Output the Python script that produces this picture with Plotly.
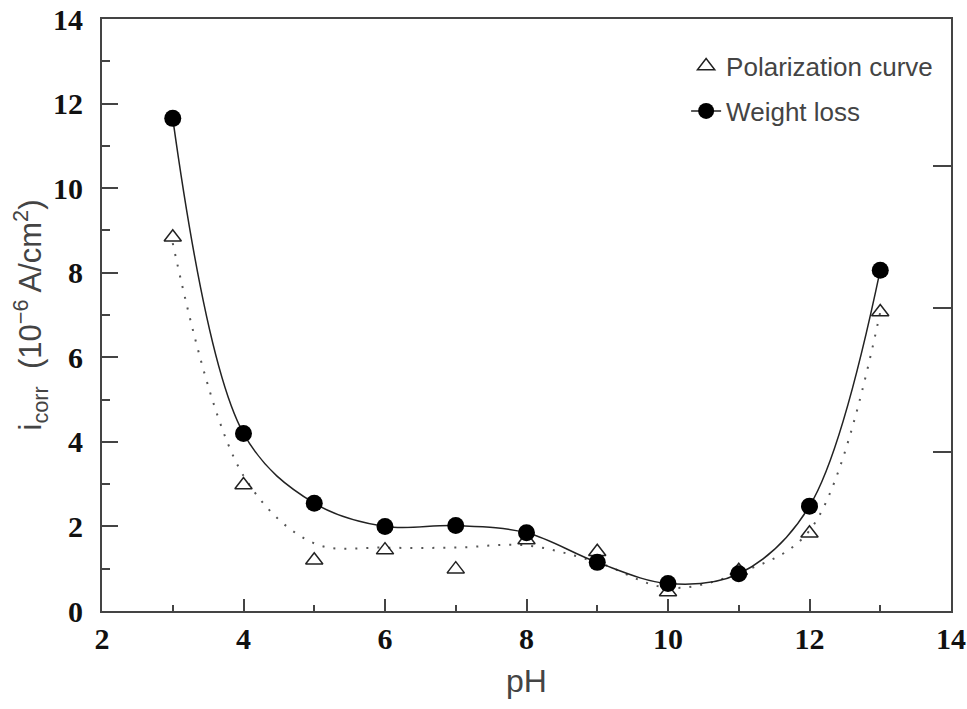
import plotly.graph_objects as go

# Data
ph = [3, 4, 5, 6, 7, 8, 9, 10, 11, 12, 13]
weight_loss = [11.65, 4.2, 2.55, 2.0, 2.02, 1.85, 1.15, 0.65, 0.88, 2.48, 8.06]
polarization = [8.84, 2.98, 1.2, 1.44, 0.99, 1.68, 1.4, 0.45, 0.95, 1.84, 7.07]
# dotted fitted curve through the polarization data
pol_fit = [8.7, 3.2, 1.6, 1.5, 1.5, 1.55, 1.15, 0.55, 0.9, 1.9, 7.07]

x_ticks = [2, 4, 6, 8, 10, 12, 14]
y_ticks = [0, 2, 4, 6, 8, 10, 12, 14]
right_ticks = [3.76, 7.16, 10.52]

AX = "#444444"
TXT = "#444444"

fig = go.Figure()

fig.add_trace(go.Scatter(
    x=ph, y=pol_fit, mode="lines", showlegend=False,
    line=dict(color="#555555", width=2, dash="2px,9px", shape="spline", smoothing=1.0),
    hoverinfo="skip"))

fig.add_trace(go.Scatter(
    x=ph, y=polarization, mode="markers", name="Polarization curve",
    legendgroup="a",
    marker=dict(symbol="triangle-up-open", size=15, color="#222222",
                line=dict(width=1.5, color="#222222"))))

fig.add_trace(go.Scatter(
    x=ph, y=weight_loss, mode="lines+markers", name="Weight loss",
    legendgroup="b",
    line=dict(color="#222222", width=1.5, shape="spline", smoothing=1.0),
    marker=dict(symbol="circle", size=17, color="black")))

# invisible trace to activate the right-hand axis
fig.add_trace(go.Scatter(x=[2], y=[0], yaxis="y2", mode="markers",
                         marker=dict(opacity=0), showlegend=False, hoverinfo="skip"))

tick_font = dict(family="Liberation Serif", size=30, color="#111111", weight="bold")

fig.update_layout(
    width=967, height=709,
    margin=dict(l=102, r=16, t=19, b=98),
    paper_bgcolor="white", plot_bgcolor="white",
    showlegend=True,
    legend=dict(x=0.688, y=0.96, xanchor="left", yanchor="top",
                font=dict(family="Liberation Sans", size=26, color=TXT),
                bgcolor="rgba(0,0,0,0)", tracegroupgap=8,
                traceorder="grouped"),
    xaxis=dict(
        range=[2, 14], tickvals=x_ticks, ticktext=[str(v) for v in x_ticks],
        ticks="inside", ticklen=12, tickwidth=2, tickcolor=AX,
        showline=True, linecolor=AX, linewidth=2, mirror=True, automargin=False,
        showgrid=False, zeroline=False, tickfont=tick_font, ticklabelstandoff=0,
        minor=dict(dtick=1, tick0=0, ticks="inside", ticklen=6, tickwidth=2, tickcolor=AX),
        title=dict(text="pH", font=dict(family="Liberation Sans", size=32, color=TXT), standoff=16),
    ),
    yaxis=dict(
        range=[0, 14], tickvals=y_ticks, ticktext=[str(v) for v in y_ticks],
        ticks="inside", ticklen=16, tickwidth=2, tickcolor=AX,
        showline=True, linecolor=AX, linewidth=2, mirror=True, automargin=False,
        showgrid=False, zeroline=False, tickfont=tick_font, ticklabelstandoff=11,
        minor=dict(dtick=2, tick0=1, ticks="inside", ticklen=8, tickwidth=2, tickcolor=AX),
        title=dict(text="i<sub>corr</sub>  (10<sup>\u22126</sup> A/cm<sup>2</sup>)",
                   font=dict(family="Liberation Sans", size=31, color=TXT), standoff=2),
    ),
    yaxis2=dict(
        overlaying="y", side="right", range=[0, 14], tickvals=right_ticks,
        ticks="inside", ticklen=18, tickwidth=2, tickcolor=AX, automargin=False,
        showticklabels=False, showline=False, showgrid=False, zeroline=False,
    ),
)

fig.write_html("out.html", config={"displayModeBar": False},
               post_script="document.body.style.margin='0';")
